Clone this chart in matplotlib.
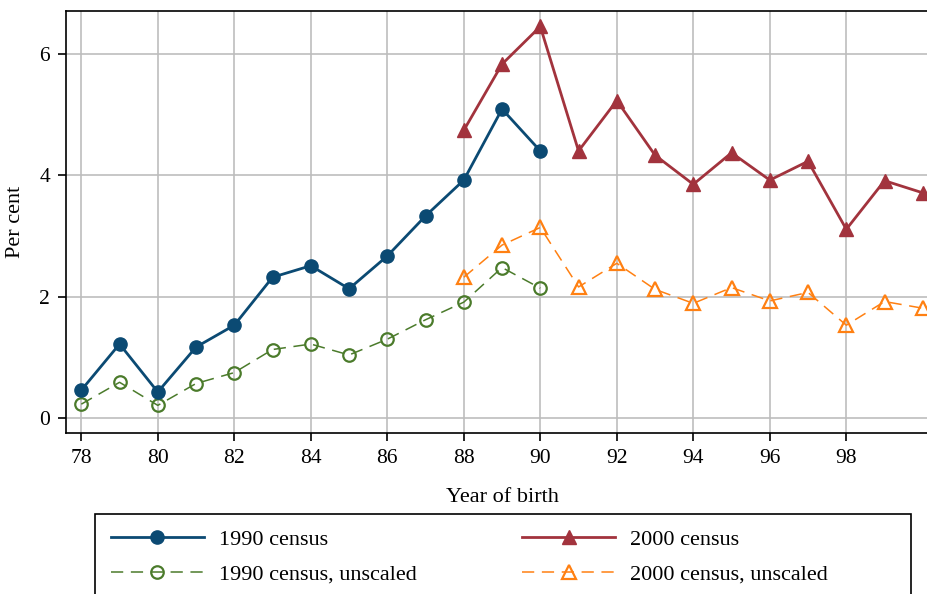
import matplotlib
matplotlib.use("Agg")
import matplotlib.pyplot as plt
from matplotlib.patches import Rectangle

plt.rcParams['font.family'] = ['Liberation Serif', 'DejaVu Serif']

years_1990 = [78, 79, 80, 81, 82, 83, 84, 85, 86, 87, 88, 89, 90]
census_1990 = [0.46, 1.22, 0.43, 1.17, 1.53, 2.32, 2.51, 2.13, 2.67, 3.33, 3.92, 5.09, 4.40]
census_1990_unscaled = [0.23, 0.59, 0.21, 0.57, 0.75, 1.13, 1.22, 1.04, 1.30, 1.62, 1.91, 2.48, 2.14]

years_2000 = [88, 89, 90, 91, 92, 93, 94, 95, 96, 97, 98, 99, 100]
census_2000 = [4.74, 5.83, 6.45, 4.40, 5.23, 4.33, 3.85, 4.37, 3.92, 4.23, 3.11, 3.91, 3.71]
census_2000_unscaled = [2.32, 2.85, 3.14, 2.16, 2.55, 2.12, 1.89, 2.15, 1.93, 2.07, 1.53, 1.92, 1.81]

xticks = [78, 80, 82, 84, 86, 88, 90, 92, 94, 96, 98]
yticks = [0, 2, 4, 6]

navy = '#0b4a73'
red = '#a2333d'
green = '#4b7b2b'
orange = '#ff8012'

W, H = 928, 594
fig = plt.figure(figsize=(W / 100, H / 100), dpi=100)
left, right, top, bottom = 65.5, 940, 11.3, 433.3
ax = fig.add_axes([left / W, 1 - bottom / H, (right - left) / W, (bottom - top) / H])

ax.plot(years_1990, census_1990, color=navy, lw=2, marker='o', ms=9.5,
        mfc=navy, mec=navy, label='1990 census', clip_on=False, zorder=4)
ax.plot(years_2000, census_2000, color=red, lw=2, marker='^', ms=10.5,
        mfc=red, mec=red, label='2000 census', clip_on=False, zorder=4)
ax.plot(years_1990, census_1990_unscaled, color=green, lw=1.1, ls=(0, (8, 5)), marker='o', ms=9,
        mfc='none', mec=green, mew=1.6, label='1990 census, unscaled', clip_on=False, zorder=3)
ax.plot(years_2000, census_2000_unscaled, color=orange, lw=1.1, ls=(0, (8, 5)), marker='^', ms=10,
        mfc='none', mec=orange, mew=1.6, label='2000 census, unscaled', clip_on=False, zorder=3)

x_per_px = 2 / 76.5
ax.set_xlim(78 - (81.3 - left) * x_per_px, 78 + (right - 81.3) * x_per_px)
ax.set_ylim(-0.25, 6.70)
ax.set_xticks(xticks)
ax.set_yticks(yticks)
ax.grid(True, color='#bdbdbd', lw=1.2)
ax.set_axisbelow(True)
for s in ['top', 'left', 'bottom', 'right']:
    ax.spines[s].set_linewidth(1.2)
ax.tick_params(direction='out', length=6, width=1.2, labelsize=15.5, pad=5)
ax.set_xlabel('Year of birth', fontsize=16, labelpad=15)
ax.set_ylabel('Per cent', fontsize=16, labelpad=10)

# legend frame (extends past bottom edge as in reference)
frame = Rectangle((95 / W, -0.05), (911 - 95) / W, (1 - 514 / H) + 0.05,
                  transform=fig.transFigure, fill=False, edgecolor='black', lw=1.2,
                  clip_on=False)
fig.add_artist(frame)

handles, labels = ax.get_legend_handles_labels()
order = [0, 2, 1, 3]
em = 16 * 100 / 72
leg = fig.legend([handles[i] for i in order], [labels[i] for i in order],
                 ncol=2, loc='upper left',
                 bbox_to_anchor=(95 / W, 1 - 514 / H),
                 fontsize=16, frameon=False,
                 handlelength=93 / em, handletextpad=15 / em,
                 borderpad=0.7, labelspacing=0.62,
                 columnspacing=(520 - 107 - 93 - 15 - 199) / em, borderaxespad=0)

fig.savefig('out.png', dpi=100)
